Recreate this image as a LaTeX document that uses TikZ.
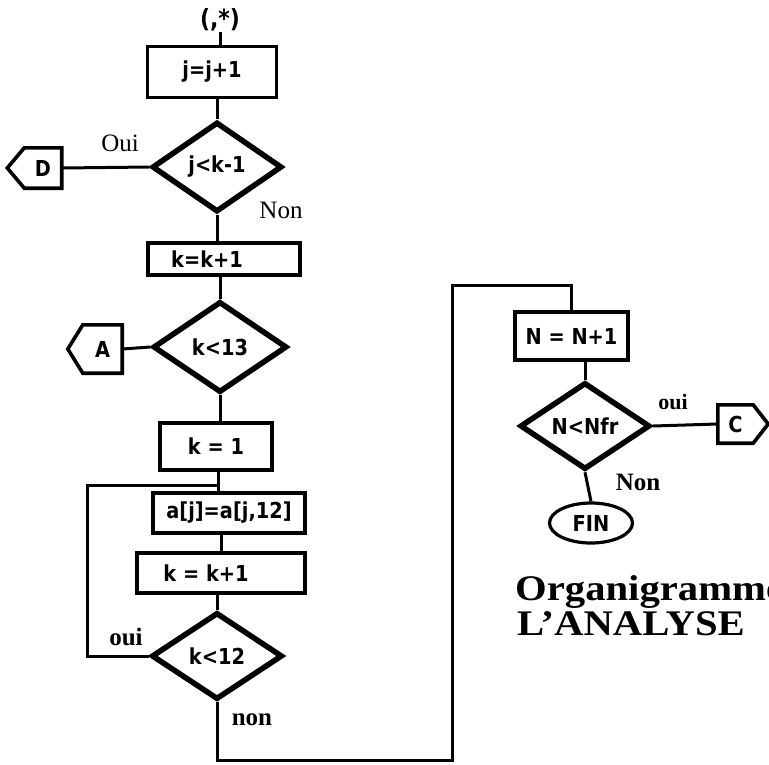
\documentclass[tikz,border=0pt]{standalone}
\usepackage{fontspec}
\usepackage{graphicx}
\setmainfont{Liberation Serif}
\newfontfamily\boxfont{DejaVu Sans}[FakeStretch=0.88]
\usetikzlibrary{shapes.geometric,calc}
\begin{document}
\begin{tikzpicture}[x=1pt,y=-1pt,
  boxtxt/.style={font=\boxfont\bfseries\fontsize{22}{25}\selectfont},
  box/.style={draw, line width=3.4pt, inner sep=0pt, boxtxt},
  dec/.style={draw, diamond, line width=5.5pt, inner sep=0pt, aspect=1.45, boxtxt},
  link/.style={line width=3pt},
  conn/.style={inner sep=0pt, boxtxt},
  pent/.style={line width=3.6pt, line join=miter},
  lbl/.style={font=\fontsize{25}{28}\selectfont, inner sep=0pt},
  blbl/.style={font=\bfseries\fontsize{25}{28}\selectfont, inner sep=0pt},
  title/.style={font=\bfseries\fontsize{36}{40}\selectfont, inner sep=0pt, anchor=base west}]
\useasboundingbox (0,0) rectangle (769,764);
\clip (0,0) rectangle (769,764);
\fill[white] (0,0) rectangle (769,764);

% left column
\node[boxtxt, font=\boxfont\bfseries\fontsize{25}{28}\selectfont, inner sep=1pt] (js) at (220,20) {(,*)};
\node[box, minimum width=129pt, minimum height=51pt] (b1) at (212,72) {j=j+1};
\node[dec, minimum width=130pt, minimum height=90pt] (d1) at (217,167) {j<k-1};
\node[conn, minimum width=37pt, minimum height=40pt] (D) at (43,168) {D};
\node[box, minimum width=152pt, minimum height=32pt] (b2) at (224,259) {k=k+1\hspace*{34pt}};
\node[dec, minimum width=134pt, minimum height=91pt] (d2) at (220,347) {k<13};
\node[conn, minimum width=39pt, minimum height=48pt] (A) at (102.5,349) {A};
\node[box, minimum width=112pt, minimum height=47pt] (b3) at (216,446.5) {k = 1};
\node[box, minimum width=152pt, minimum height=40pt] (b4) at (229,513) {a[j]=a[j,12]};
\node[box, minimum width=168pt, minimum height=40pt] (b5) at (221,573) {k = k+1\hspace*{30pt}};
\node[dec, minimum width=131pt, minimum height=87pt] (d3) at (217,656) {k<12};

% right column
\node[box, minimum width=113pt, minimum height=48pt] (b6) at (571.5,336) {N = N+1};
\node[dec, minimum width=130pt, minimum height=87pt] (d4) at (585,426) {N<Nfr};
\node[conn, minimum width=35pt, minimum height=38pt] (C) at (735.5,424) {C};
\node[draw, ellipse, line width=3.2pt, inner sep=0pt, minimum width=83pt, minimum height=40pt, boxtxt] (fin) at (591,523) {FIN};

% connector pentagons
\draw[pent] (D.north east) -- (D.north west) -- ([xshift=-17pt]D.west) -- (D.south west) -- (D.south east) -- cycle;
\draw[pent] (A.north east) -- (A.north west) -- ([xshift=-15pt]A.west) -- (A.south west) -- (A.south east) -- cycle;
\draw[pent] (C.north west) -- (C.north east) -- ([xshift=15pt]C.east) -- (C.south east) -- (C.south west) -- cycle;

% labels
\node[lbl] (l1) at (120,143) {Oui};
\node[lbl] (l2) at (281,210) {Non};
\node[blbl] (l3) at (126,637) {oui};
\node[blbl] (l4) at (252,720) {non};
\node[blbl, font=\bfseries\fontsize{22}{24}\selectfont] (l5) at (673,402) {oui};
\node[blbl] (l6) at (638,482) {Non};

% titles
\node[title] (t1) at (515,600) {\scalebox{1.13}[1]{Organigramme}};
\node[title] (t2) at (517,635) {\scalebox{1.13}[1]{L'ANALYSE}};

% coordinates for loops
\coordinate (loopL) at (87,485);
\coordinate (join) at (218,485);
\coordinate (c1) at (452,760);
\coordinate (c2) at (452,285);

% connectors
\draw[link] (js.south) -- (js.south |- b1.north);
\draw[link] (b1.south -| d1.north) -- (d1.north);
\draw[link] (d1.west) -- (D.east);
\draw[link] (d1.south) -- (d1.south |- b2.north);
\draw[link] (b2.south -| d2.north) -- (d2.north);
\draw[link] (d2.west) -- (A.east);
\draw[link] (d2.south) -- (d2.south |- b3.north);
\draw[link] (b3.south -| join) -- (join |- b4.north);
\draw[link] (d3.west) -| (loopL) -- (join);
\draw[link] (b4.south -| b5.north) -- (b5.north);
\draw[link] (b5.south -| d3.north) -- (d3.north);
\draw[link] (d3.south) |- (c1) -- (c2) -| (b6.north);
\draw[link] (b6.south -| d4.north) -- (d4.north);
\draw[link] (d4.east) -- (C.west);
\draw[link] (d4.south) -- (fin.north);
\end{tikzpicture}
\end{document}
